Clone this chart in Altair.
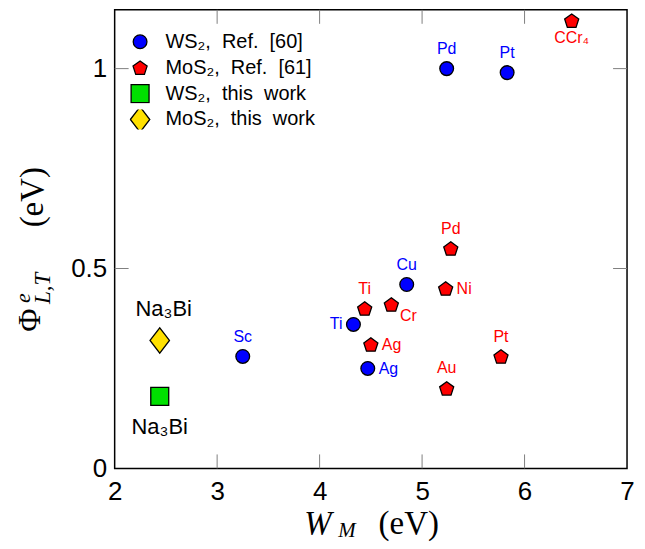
import altair as alt
import pandas as pd

# ---------------- data ----------------
series_names = ["WS₂,\u00a0 Ref.\u00a0 [60]", "MoS₂,\u00a0 Ref.\u00a0 [61]",
                "WS₂,\u00a0 this\u00a0 work", "MoS₂,\u00a0 this\u00a0 work"]

ws2_metals = ["Sc", "Ti", "Ag", "Cu", "Pd", "Pt"]
ws2_wm = [3.25, 4.33, 4.47, 4.85, 5.24, 5.83]
ws2_phi = [0.28, 0.36, 0.25, 0.46, 1.00, 0.99]
ws2_place = ["above", "left", "right", "above", "above", "above"]

mos2_metals = ["Ti", "Cr", "Ag", "Pd", "Ni", "Au", "Pt", "CCr₄"]
mos2_wm = [4.44, 4.70, 4.50, 5.28, 5.23, 5.24, 5.77, 6.46]
mos2_phi = [0.40, 0.41, 0.31, 0.55, 0.45, 0.20, 0.28, 1.12]
mos2_place = ["above", "belowright", "right", "above", "right", "above", "above", "below"]

ws2_this_names = ["Na₃Bi"]
ws2_this_wm = [2.44]
ws2_this_phi = [0.18]
ws2_this_place = ["below"]

mos2_this_names = ["Na₃Bi"]
mos2_this_wm = [2.44]
mos2_this_phi = [0.32]
mos2_this_place = ["above"]

x_tick_vals = [3, 4, 5, 6]
y_tick_vals = [0.5, 1.0]
x_label_vals = [2, 3, 4, 5, 6, 7]
y_label_vals = [0, 0.5, 1]

# ---------------- table ----------------
rows = []
for s, names, xs_, ys_, pl in [
    (series_names[0], ws2_metals, ws2_wm, ws2_phi, ws2_place),
    (series_names[1], mos2_metals, mos2_wm, mos2_phi, mos2_place),
    (series_names[2], ws2_this_names, ws2_this_wm, ws2_this_phi, ws2_this_place),
    (series_names[3], mos2_this_names, mos2_this_wm, mos2_this_phi, mos2_this_place),
]:
    for n, a, b, p in zip(names, xs_, ys_, pl):
        rows.append({"series": s, "label": n, "wm": a, "phi": b, "place": p,
                     "group": "ref" if "Ref" in s else "this"})
df = pd.DataFrame(rows)

# ---------------- styles ----------------
W, H = 514, 460
pentagon = "M0,-0.905L0.951,-0.214L0.588,0.904L-0.588,0.904L-0.951,-0.214Z"
diamond = "M-1,0L0,-1.3L1,0L0,1.3Z"
point_colors = ["#0000ff", "#ff0000", "#00e000", "#ffe000"]
label_colors = ["#0000ff", "#ff0000", "black", "black"]
shapes = ["circle", pentagon, "square", diamond]
sizes = [190, 220, 324, 380]

xs = alt.Scale(domain=[2, 7], nice=False, zero=False)
ys = alt.Scale(domain=[0, 1.147], nice=False, zero=False)

xax = alt.Axis(values=x_label_vals, title=None, ticks=False, domain=False, grid=False,
               labelFontSize=26, labelPadding=10, labelFlush=False, labelOverlap=False,
               format="d", labelColor="black", labelFont="Liberation Sans")
yax = alt.Axis(values=y_label_vals, title=None, ticks=False, domain=False, grid=False,
               labelFontSize=26, labelPadding=8, labelFlush=False, labelOverlap=False,
               format="~g", labelColor="black", labelFont="Liberation Sans")

legend = alt.Legend(title=None, orient="none", legendX=15, legendY=22,
                    labelFontSize=20, labelFont="Liberation Sans", labelColor="black",
                    symbolStrokeColor="black", symbolStrokeWidth=1.3, symbolSize=220,
                    rowPadding=6, labelOffset=15, clipHeight=20)

points = alt.Chart(df).mark_point(filled=True, opacity=1, stroke="black", strokeWidth=1.3).encode(
    x=alt.X("wm:Q", scale=xs, axis=xax),
    y=alt.Y("phi:Q", scale=ys, axis=yax),
    color=alt.Color("series:N", scale=alt.Scale(domain=series_names, range=point_colors), legend=legend),
    shape=alt.Shape("series:N", scale=alt.Scale(domain=series_names, range=shapes), legend=legend),
    size=alt.Size("series:N", scale=alt.Scale(type="ordinal", domain=series_names, range=sizes),
                  legend=None),
)

placements = {
    "above": dict(dx=0, dy=-20, align="center"),
    "below": dict(dx=0, dy=17, align="center"),
    "left": dict(dx=-11, dy=0, align="right"),
    "right": dict(dx=11, dy=1, align="left"),
    "belowright": dict(dx=17, dy=12, align="center"),
}
big_placements = {
    "above": dict(dx=4, dy=-32, align="center"),
    "below": dict(dx=0, dy=31, align="center"),
}

label_layers = []
for grp, table, fs in [("ref", placements, 16), ("this", big_placements, 22)]:
    for key, opt in table.items():
        label_layers.append(
            alt.Chart(df).transform_filter(
                (alt.datum.group == grp) & (alt.datum.place == key)
            ).mark_text(font="Liberation Sans", fontSize=fs, baseline="middle", **opt).encode(
                x=alt.X("wm:Q", scale=xs, axis=xax),
                y=alt.Y("phi:Q", scale=ys, axis=yax),
                text="label:N",
                fill=alt.Fill("series:N", scale=alt.Scale(domain=series_names, range=label_colors),
                              legend=None),
            )
        )

xt = pd.DataFrame({"v": x_tick_vals})
yt = pd.DataFrame({"v": y_tick_vals})
tick_style = dict(color="#808080", strokeWidth=1)
ticks = [
    alt.Chart(xt).mark_rule(**tick_style).encode(x=alt.X("v:Q", scale=xs, axis=xax),
                                                 y=alt.value(H), y2=alt.value(H - 14)),
    alt.Chart(xt).mark_rule(**tick_style).encode(x=alt.X("v:Q", scale=xs, axis=xax),
                                                 y=alt.value(0), y2=alt.value(14)),
    alt.Chart(yt).mark_rule(**tick_style).encode(y=alt.Y("v:Q", scale=ys, axis=yax),
                                                 x=alt.value(0), x2=alt.value(14)),
    alt.Chart(yt).mark_rule(**tick_style).encode(y=alt.Y("v:Q", scale=ys, axis=yax),
                                                 x=alt.value(W), x2=alt.value(W - 14)),
]

serif = "Liberation Serif"
def title_piece(txt, x, y, size, italic=False, angle=0, align="center"):
    kw = dict(text=txt, font=serif, fontSize=size, align=align, baseline="middle", color="black")
    if italic:
        kw["fontStyle"] = "italic"
    if angle:
        kw["angle"] = angle
    return alt.Chart(pd.DataFrame({"k": [0]})).mark_text(**kw).encode(x=alt.value(x), y=alt.value(y))

titles = [
    title_piece("W", 204, 516, 33, italic=True),
    title_piece("M", 233, 523, 21, italic=True),
    title_piece("(eV)", 295, 516, 33),
    title_piece("Φ", -85, 323, 32, angle=270, align="left"),
    title_piece("e", -92, 294, 22, italic=True, angle=270, align="left"),
    title_piece("L,T", -72, 295, 23, italic=True, angle=270, align="left"),
    title_piece("(eV)", -82, 188, 33, angle=270),
]

chart = alt.layer(points, *label_layers, *ticks, *titles).properties(
    width=W, height=H,
    padding={"left": 107, "top": 1, "right": 10, "bottom": 78},
    autosize=alt.AutoSizeParams(type="none"),
).configure(font="Liberation Sans").configure_view(stroke="black", strokeWidth=1.5)

chart.save("out.html", embed_options={"renderer": "svg", "actions": False})
